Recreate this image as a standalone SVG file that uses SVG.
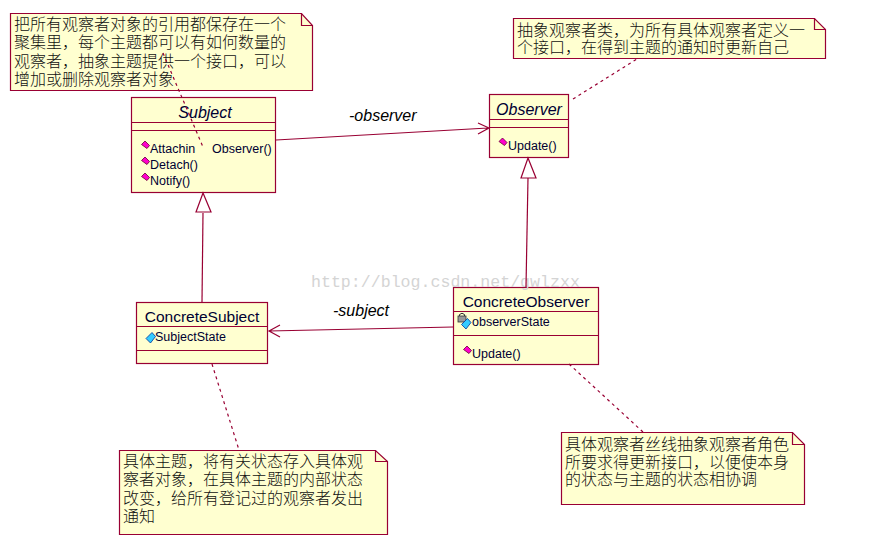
<svg xmlns="http://www.w3.org/2000/svg" width="873" height="539" viewBox="0 0 873 539">
<style>
.b{fill:#ffffd0;stroke:#990033;stroke-width:1.2}
.l{fill:none;stroke:#990033;stroke-width:1.2}
.d{fill:none;stroke:#990033;stroke-width:1.2;stroke-dasharray:3 3.500}
.n{font:300 16px "Noto Sans CJK SC","Liberation Sans",sans-serif;fill:#111}
.t{font:15.500px "Liberation Sans",sans-serif;fill:#000033}
.i{font:italic 16px "Liberation Sans",sans-serif}
.m{font:12.500px "Liberation Sans",sans-serif;fill:#000033}
.a{font:italic 16px "Liberation Sans",sans-serif;fill:#000}
.op{fill:#ff00cc;stroke:#660033;stroke-width:.8}
.at{fill:#33ccff;stroke:#003399;stroke-width:.8}
.w{font:16.600px "Liberation Mono",monospace;fill:#d4d4d4}
</style>
<rect width="873" height="539" fill="#fff"/>
<g id="note-subject">
<path class="b" d="M10.500 13.500H301.500L312.500 25.500V90.500H10.500Z"/>
<path class="l" d="M301.500 13.500V25.500H312.500"/>
<text class="n"><tspan x="14" y="30">把所有观察者对象的引用都保存在一个</tspan><tspan x="14" y="48">聚集里，每个主题都可以有如何数量的</tspan><tspan x="14" y="67">观察者，抽象主题提供一个接口，可以</tspan><tspan x="14" y="85">增加或删除观察者对象</tspan></text>
</g>
<g id="note-observer">
<path class="b" d="M513.500 18.500H814.500L825.500 29.500V58.500H513.500Z"/>
<path class="l" d="M814.500 18.500V29.500H825.500"/>
<text class="n"><tspan x="517" y="36">抽象观察者类，为所有具体观察者定义一</tspan><tspan x="517" y="53">个接口，在得到主题的通知时更新自己</tspan></text>
</g>
<g id="note-concrete-subject">
<path class="b" d="M119.500 450.500H375.500L387.500 461.500V534.500H119.500Z"/>
<path class="l" d="M375.500 450.500V461.500H387.500"/>
<text class="n"><tspan x="123" y="467">具体主题，将有关状态存入具体观</tspan><tspan x="123" y="485">察者对象，在具体主题的内部状态</tspan><tspan x="123" y="504">改变，给所有登记过的观察者发出</tspan><tspan x="123" y="522">通知</tspan></text>
</g>
<g id="note-concrete-observer">
<path class="b" d="M561.500 432.500H792.500L804.500 444.500V504.500H561.500Z"/>
<path class="l" d="M792.500 432.500V444.500H804.500"/>
<text class="n"><tspan x="565" y="450">具体观察者丝线抽象观察者角色</tspan><tspan x="565" y="468">所要求得更新接口，以便使本身</tspan><tspan x="565" y="485">的状态与主题的状态相协调</tspan></text>
</g>
<g id="Subject">
<rect class="b" x="131.500" y="97.500" width="144" height="95"/>
<path class="l" d="M131.500 122.500H275.500M131.500 130.500H275.500"/>
<text class="t i" x="205" y="118" text-anchor="middle">Subject</text>
<path class="op" d="M145 141L149.500 145.500L147 148.500L141.500 144.500Z"/>
<path class="op" d="M145 157L149.500 161.500L147 164.500L141.500 160.500Z"/>
<path class="op" d="M145 173L149.500 177.500L147 180.500L141.500 176.500Z"/>
<text class="m"><tspan x="150" y="153">Attachin</tspan><tspan x="212" y="153">Observer()</tspan><tspan x="150" y="169">Detach()</tspan><tspan x="150" y="185">Notify()</tspan></text>
</g>
<g id="Observer">
<rect class="b" x="489.500" y="94.500" width="79" height="63"/>
<path class="l" d="M489.500 119.500H568.500M489.500 127.500H568.500"/>
<text class="t i" x="529" y="115" text-anchor="middle">Observer</text>
<path class="op" d="M502.500 138L507 142.500L504.500 145.500L499 141.500Z"/>
<text class="m" x="508" y="150">Update()</text>
</g>
<g id="ConcreteSubject">
<rect class="b" x="136.500" y="302.500" width="131" height="61"/>
<path class="l" d="M136.500 326.500H267.500M136.500 350.500H267.500"/>
<text class="t" x="202" y="322" text-anchor="middle">ConcreteSubject</text>
<path class="at" d="M152 332.500L155.500 336.500L150.500 343L146 338.500Z"/>
<text class="m" x="155" y="341">SubjectState</text>
</g>
<g id="ConcreteObserver">
<rect class="b" x="453.500" y="287.500" width="145" height="77"/>
<path class="l" d="M453.500 311.500H598.500M453.500 335.500H598.500"/>
<text class="t" x="526" y="307" text-anchor="middle">ConcreteObserver</text>
<rect x="458" y="316" width="8" height="6" fill="#999" stroke="#333" stroke-width=".8"/>
<path d="M459.500 316V314.500Q462 312 464.500 314.500V316" fill="none" stroke="#333"/>
<path class="at" d="M467.500 318.500L471 322.500L466 329L461.500 324.500Z"/>
<text class="m" x="472" y="326">observerState</text>
<path class="op" d="M467 346L471.500 350.500L469 353.500L463.500 349.500Z"/>
<text class="m" x="472" y="358">Update()</text>
</g>
<text class="a" x="349" y="121">-observer</text>
<text class="a" x="333" y="316">-subject</text>
<text class="w" x="311" y="287">http://blog.csdn.net/gwlzxx</text>
<g id="connectors">
<path class="d" d="M163 53L203 147"/>
<path class="d" d="M573 99L637 59"/>
<path class="d" d="M212 364L239 450"/>
<path class="d" d="M569 364L643 432"/>
<path class="l" d="M276 140L488 128M478 123L489 128L478 134"/>
<path class="l" d="M203 213L202 302"/>
<path class="l" d="M528 178L526 287"/>
<path class="l" d="M453 327L269 331M280 325L269 331L280 337"/>
<path class="l" style="fill:#fff" d="M203 193L196 212H211Z"/>
<path class="l" style="fill:#fff" d="M528 158L521 178H536Z"/>
</g>
</svg>
